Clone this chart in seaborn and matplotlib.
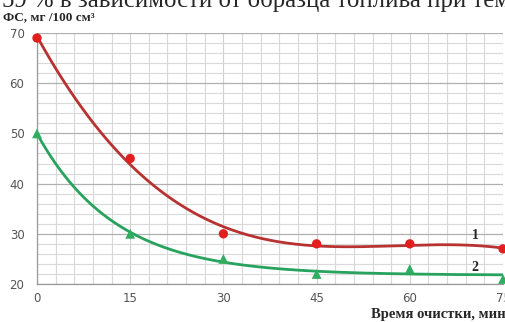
import numpy as np
import pandas as pd
import matplotlib
matplotlib.use("Agg")
import matplotlib.pyplot as plt
from matplotlib.ticker import MultipleLocator
import seaborn as sns

time_min = [0, 15, 30, 45, 60, 75]
fs_1 = [69, 45, 30, 28, 28, 27]
fs_2 = [50, 30, 25, 22, 23, 21]
series_labels = ["1", "2"]
x_ticks = [0, 15, 30, 45, 60, 75]
y_ticks = [20, 30, 40, 50, 60, 70]

sns.set_theme(style="white")
plt.rcParams['font.family'] = ['DejaVu Sans']


def poly_trend(x, y, deg=3):
    """Least-squares polynomial trendline."""
    x = np.asarray(x, float); y = np.asarray(y, float)
    p = np.polyfit(x, y, deg)
    xs = np.linspace(x.min(), x.max(), 300)
    return xs, np.polyval(p, xs)


def exp_trend(x, y):
    """Least-squares exponential trendline c + a*exp(-b x)."""
    x = np.asarray(x, float); y = np.asarray(y, float)
    best = None
    for b in np.linspace(0.005, 0.3, 1500):
        A = np.column_stack([np.exp(-b * x), np.ones_like(x)])
        coef, *_ = np.linalg.lstsq(A, y, rcond=None)
        err = np.sum((A @ coef - y) ** 2)
        if best is None or err < best[0]:
            best = (err, b, coef)
    _, b, (a, c) = best
    xs = np.linspace(x.min(), x.max(), 300)
    return xs, a * np.exp(-b * xs) + c


df = pd.DataFrame({"t": time_min + time_min,
                   "fs": fs_1 + fs_2,
                   "s": [series_labels[0]] * 6 + [series_labels[1]] * 6})

fig = plt.figure(figsize=(5.06, 3.22), dpi=100)
ax = fig.add_axes([0.0731, 0.118, 0.921, 0.7795])

red_line, red_pt = "#b83232", "#e41e1e"
green_line, green_pt = "#27a35e", "#2fae5f"

xs, ys = poly_trend(time_min, fs_1)
sns.lineplot(x=xs, y=ys, ax=ax, color=red_line, lw=2.0)
xs, ys = exp_trend(time_min, fs_2)
sns.lineplot(x=xs, y=ys, ax=ax, color=green_line, lw=2.0)

d1 = df[df.s == "1"]; d2 = df[df.s == "2"]
sns.scatterplot(data=d1, x="t", y="fs", ax=ax, color=red_pt, marker="o", s=45,
                edgecolor="none", clip_on=False, zorder=5)
sns.scatterplot(data=d2, x="t", y="fs", ax=ax, color=green_pt, marker="^", s=50,
                edgecolor="none", clip_on=False, zorder=5)

ax.set_xlim(0, 75)
ax.set_ylim(20, 70)
ax.xaxis.set_minor_locator(MultipleLocator(3))
ax.yaxis.set_minor_locator(MultipleLocator(2))
ax.set_xticks(x_ticks)
ax.set_yticks(y_ticks)
ax.grid(which="minor", color="#d9d9d9", lw=0.8)
ax.grid(which="major", axis="y", color="#b0b0b0", lw=0.9)
ax.grid(which="major", axis="x", color="#d0d0d0", lw=0.8)
ax.set_axisbelow(True)
for sp in ["top", "right"]:
    ax.spines[sp].set_visible(False)
for sp in ["left", "bottom"]:
    ax.spines[sp].set_color("#999999")
    ax.spines[sp].set_linewidth(0.9)
ax.tick_params(which="major", length=3, color="#999999", labelsize=8.5,
               labelcolor="#555555")
ax.tick_params(axis="x", which="major", pad=3)
ax.tick_params(axis="y", which="major", pad=6)
ax.tick_params(which="minor", length=0)
ax.set_xlabel(""); ax.set_ylabel("")

ax.text(70.5, 29.6, series_labels[0], fontsize=10, fontweight="bold",
        family="Liberation Serif", ha="center", va="center")
ax.text(70.5, 23.3, series_labels[1], fontsize=10, fontweight="bold",
        family="Liberation Serif", ha="center", va="center")

fig.text(0.006, 0.948, "ФС, мг /100 см³", fontsize=9.5, fontweight="bold",
         family="Liberation Serif", ha="left", va="center")
fig.text(1.0, 0.022, "Время очистки, мин", fontsize=10.5, fontweight="bold",
         family="Liberation Serif", ha="right", va="center")
fig.text(0.004, 0.978, "59 % в зависимости от образца топлива при тем",
         fontsize=17.8, family="Liberation Serif", ha="left", va="baseline")

fig.savefig("out.png", dpi=100)
